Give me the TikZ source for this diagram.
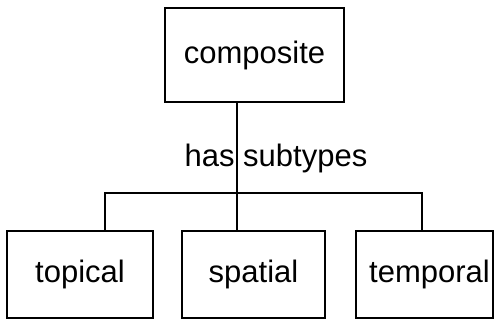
\documentclass[tikz,border=0pt]{standalone}
\usepackage{fontspec}
\setmainfont{Liberation Sans}
\begin{document}
\begin{tikzpicture}[x=1pt,y=1pt,
  box/.style={draw,line width=1.4pt,inner sep=0pt,minimum height=87pt,font=\fontsize{31}{36}\selectfont},
  link/.style={line width=1.4pt}]
\useasboundingbox (0,0) rectangle (495,328);
\node[box,minimum width=179pt,minimum height=94pt] (composite) at (254.5,273) {composite};
\node[box,minimum width=146pt] (topical) at (80,53.5) {topical};
\node[box,minimum width=143pt] (spatial) at (253.5,53.5) {spatial};
\node[box,minimum width=137pt] (temporal) at (424.5,53.5) {\hspace*{10pt}temporal};
\coordinate (barL) at (105,135);
\coordinate (barM) at (237,135);
\coordinate (barR) at (422,135);
\draw[link] (composite.south -| barM) -- (spatial.north -| barM);
\draw[link] (topical.north -| barL) -- (barL) -- (barR) -- (temporal.north -| barR);
\node[anchor=base,inner sep=0pt,font=\fontsize{31}{36}\selectfont] (label) at (276,161) {has subtypes};
\end{tikzpicture}
\end{document}
